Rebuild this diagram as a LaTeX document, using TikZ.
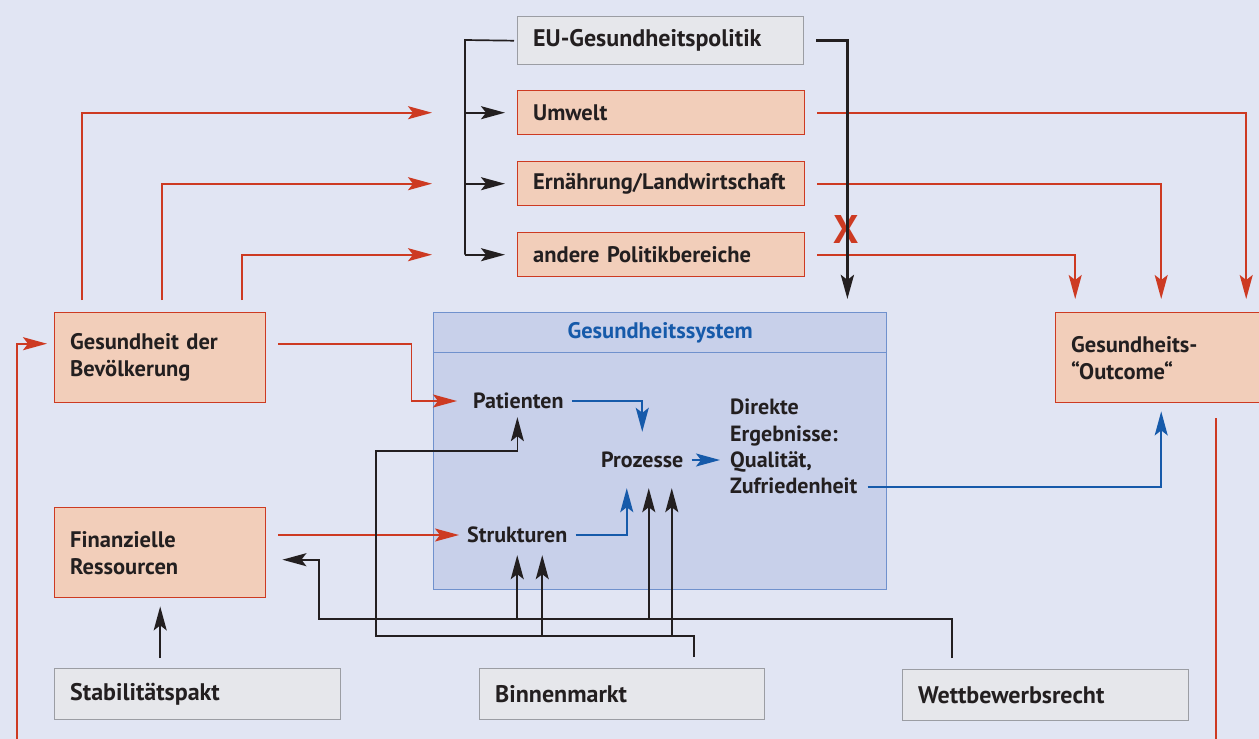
\documentclass[tikz,border=0pt]{standalone}
\usepackage{fontspec}
\setmainfont{PT Sans}
\usepackage{tikz}
\usetikzlibrary{arrows.meta}
\definecolor{bgblue}{RGB}{225,229,243}
\definecolor{peachfill}{RGB}{242,206,186}
\definecolor{redline}{RGB}{205,58,34}
\definecolor{grayfill}{RGB}{230,231,235}
\definecolor{grayline}{RGB}{155,157,163}
\definecolor{sysfill}{RGB}{200,208,234}
\definecolor{sysline}{RGB}{112,145,205}
\definecolor{blueline}{RGB}{22,90,170}
\definecolor{inkblack}{RGB}{35,31,32}

\begin{document}
\begin{tikzpicture}[x=1pt,y=-1pt,
    every node/.style={text=inkblack},
    tip/.style={-{Stealth[length=24pt,width=13pt,inset=5pt]}},
    peachbox/.style={draw=redline,fill=peachfill,line width=1.4pt,anchor=north west,
      inner xsep=15.5pt,inner ysep=0pt,align=left,font=\bfseries\fontsize{22.5}{27}\selectfont},
    graybox/.style={draw=grayline,fill=grayfill,line width=1.4pt,anchor=north west,
      inner xsep=15.5pt,inner ysep=0pt,align=left,font=\bfseries\fontsize{24}{28}\selectfont},
    sysbox/.style={draw=sysline,fill=sysfill,line width=1.4pt,anchor=north west,inner sep=0pt},
    item/.style={inner xsep=8pt,inner ysep=0pt,text height=18pt,text depth=4pt,
      anchor=base west,font=\bfseries\fontsize{22}{26.3}\selectfont},
    redarrow/.style={tip,draw=redline,line width=1.7pt},
    blackarrow/.style={tip,draw=inkblack,line width=1.7pt},
    bluearrow/.style={tip,draw=blueline,line width=1.7pt}]
        \useasboundingbox (0,0) rectangle (1259,739);
        \clip (0,0) rectangle (1259,739);
        \fill[bgblue] (0,0) rectangle (1259,739);
        %% boxes
        \node[graybox,text width=255pt,minimum height=48pt] (eu) at (517,16) {EU-Gesundheitspolitik};
        \node[peachbox,text width=256pt,minimum height=44pt] (umwelt) at (517,90) {Umwelt};
        \node[peachbox,text width=256pt,minimum height=44pt] (ernaehrung) at (517,161) {Ernährung/Landwirtschaft};
        \node[peachbox,text width=256pt,minimum height=44pt] (andere) at (517,232) {andere Politikbereiche};
        \node[peachbox,text width=180pt,minimum height=90pt] (bevoelkerung) at (54,312) {Gesundheit der\\Bevölkerung};
        \node[peachbox,text width=180pt,minimum height=90pt] (finanzen) at (54,507) {Finanzielle\\Ressourcen};
        \node[peachbox,text width=180pt,minimum height=90pt] (outcome) at (1055,312) {Gesundheits-\\“Outcome“};
        \node[sysbox,minimum width=453pt,minimum height=277pt] (system) at (433,312) {};
        \node[sysbox,minimum width=453pt,minimum height=40pt,text=blueline,
          font=\bfseries\fontsize{22.5}{26}\selectfont] (header) at (433,312) {Gesundheitssystem};
        \node[graybox,text width=255pt,minimum height=51pt] (stabilitaet) at (54,668) {Stabilitätspakt};
        \node[graybox,text width=254pt,minimum height=51pt] (binnenmarkt) at (479,668) {Binnenmarkt};
        \node[graybox,text width=255pt,minimum height=51pt] (wettbewerb) at (902,669) {Wettbewerbsrecht};
        %% inside the health system
        \node[item] (patienten) at (465,408) {Patienten};
        \node[item] (prozesse) at (593,467) {Prozesse};
        \node[item] (strukturen) at (459,542) {Strukturen};
        \node[item,text height=,text depth=,anchor=north west,inner xsep=10pt,align=left] (ergebnisse)
          at (720,399) {Direkte\\Ergebnisse:\\Qualität,\\Zufriedenheit};
        \node[text=redline,inner sep=0pt,font=\bfseries\fontsize{40}{40}\selectfont] (stop) at (846,229) {X};
        %% entry points
        \coordinate (spine) at (465,40);
        \coordinate (wbus) at (319,619);
        \coordinate (bbus) at (376,636);
        \coordinate (bturn) at (376,451);
        \coordinate (loopL) at (17,745);
        \coordinate (wstart) at ([xshift=50pt,yshift=11pt]wettbewerb.north west);
        \coordinate (bstart) at ([xshift=72pt,yshift=11pt]binnenmarkt.north);
        \coordinate (stabtop) at ([yshift=10pt]stabilitaet.north);
        \coordinate (pzS) at ([xshift=-15.5pt,yshift=-17pt]prozesse.south);
        \coordinate (pzW) at ([xshift=6.5pt,yshift=-17pt]prozesse.south);
        \coordinate (pzB) at ([xshift=29.5pt,yshift=-17pt]prozesse.south);
        \coordinate (stW) at ([xshift=0pt,yshift=-9pt]strukturen.south);
        \coordinate (stB) at ([xshift=25pt,yshift=-9pt]strukturen.south);
        \coordinate (ptB) at ([xshift=-1pt,yshift=-5pt]patienten.south);
        %% population health feeds the policy areas
        \draw[redarrow] ([xshift=-78.5pt,yshift=12pt]bevoelkerung.north) |- ([xshift=-85pt]umwelt.west);
        \draw[redarrow] ([xshift=1.5pt,yshift=12pt]bevoelkerung.north) |- ([xshift=-85pt]ernaehrung.west);
        \draw[redarrow] ([xshift=81.5pt,yshift=12pt]bevoelkerung.north) |- ([xshift=-85pt]andere.west);
        \draw[redarrow] ([xshift=12pt]umwelt.east) -| ([xshift=85pt,yshift=13pt]outcome.north);
        \draw[redarrow] ([xshift=12pt]ernaehrung.east) -| ([yshift=13pt]outcome.north);
        \draw[redarrow] ([xshift=12pt]andere.east) -| ([xshift=-86pt,yshift=13pt]outcome.north);
        \draw[redarrow] ([xshift=12pt,yshift=14pt]bevoelkerung.east) -- ++(133,0)
          |- ([xshift=-8pt]patienten.west);
        \draw[redarrow] ([xshift=12pt]finanzen.east |- strukturen.west) -- (strukturen.west);
        \draw[redarrow] (loopL) |- ([xshift=-7pt,yshift=14pt]bevoelkerung.west);
        \draw[draw=redline,line width=1.7pt] ([xshift=54.5pt,yshift=-15pt]outcome.south) -- ++(0,340);
        %% EU health policy
        \draw[draw=inkblack,line width=1.7pt] ([xshift=-3pt]eu.west) -- (spine) -- (spine |- andere.west);
        \draw[blackarrow] (spine |- umwelt.west) -- ([xshift=-12pt]umwelt.west);
        \draw[blackarrow] (spine |- ernaehrung.west) -- ([xshift=-12pt]ernaehrung.west);
        \draw[blackarrow] (spine |- andere.west) -- ([xshift=-12pt]andere.west);
        \draw[blackarrow,line width=3.5pt] ([xshift=12pt]eu.east) -| ([xshift=-40pt,yshift=13pt]system.north east);
        %% inside the system
        \draw[bluearrow] (patienten.east) -| ([yshift=17pt]prozesse.north);
        \draw[bluearrow] (strukturen.east) -| (pzS);
        \draw[bluearrow] (prozesse.east) -- (prozesse.east -| ergebnisse.west);
        \draw[bluearrow] ([yshift=7pt]ergebnisse.south east) -| ([yshift=-8pt]outcome.south);
        %% market and competition law
        \draw[blackarrow] (stabtop -| finanzen.south) -- ([yshift=-8pt]finanzen.south);
        \draw[blackarrow] (wstart) |- (wbus) |- ([xshift=16pt,yshift=-7pt]finanzen.east);
        \draw[blackarrow] (stW |- wbus) -- (stW);
        \draw[blackarrow] (pzW |- wbus) -- (pzW);
        \draw[blackarrow] (bstart) |- (bbus) -- (bturn) -| (ptB);
        \draw[blackarrow] (stB |- bbus) -- (stB);
        \draw[blackarrow] (pzB |- bbus) -- (pzB);
      \end{tikzpicture}
\end{document}
